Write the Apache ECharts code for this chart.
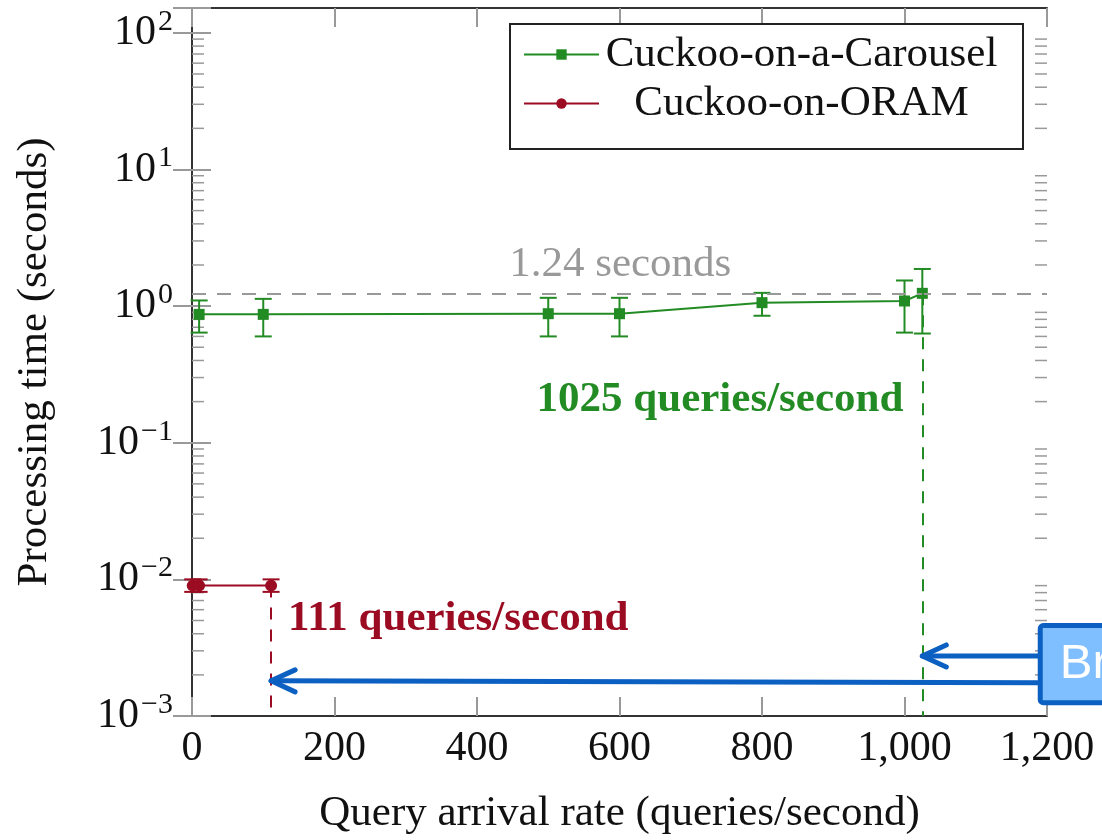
<!DOCTYPE html>
<html>
<head>
<meta charset="UTF-8">
<title>Processing time vs query arrival rate</title>
<script src="https://cdn.jsdelivr.net/npm/echarts@6/dist/echarts.min.js"></script>
<style>
  html, body { margin: 0; padding: 0; background: #fff; }
  #main { width: 1102px; height: 840px; }
</style>
</head>
<body>
<div id="main"></div>
<script>
// data
var carouselX  = [10, 100, 500, 600, 800, 1000, 1025];
var carouselY  = [0.87, 0.87, 0.88, 0.88, 1.06, 1.09, 1.24];
var carouselLo = [0.64, 0.60, 0.60, 0.60, 0.85, 0.64, 0.63];
var carouselHi = [1.10, 1.13, 1.15, 1.15, 1.25, 1.54, 1.87];

var oramX  = [1, 10, 111];
var oramY  = [0.009, 0.009, 0.009];
var oramLo = [0.0081, 0.0081, 0.0081];
var oramHi = [0.0100, 0.0100, 0.0100];

var refSeconds = 1.24;
var carouselMaxRate = 1025;
var oramMaxRate = 111;

// axes
var xMin = 0, xMax = 1200, xStep = 200;
var yMin = 0.001, yMax = 152;
var yDecades = [-3, -2, -1, 0, 1, 2];
var minorSteps = [2, 3, 4, 5, 6, 7, 8, 9];

// annotation anchors (data coords)
var carouselLabelAt = [1025, 0.207];
var oramLabelAt = [111, 0.00512];
var refLabelAt = [601, 2.0];
var arrows = [
  { from: [1187, 0.00275], to: [1025, 0.00275] },
  { from: [1187, 0.00175], to: [111, 0.00181] }
];
var box = { x: 1187, top: 0.00479, bottom: 0.0012, text: 'Br' };

var GREEN = '#238b23';
var RED = '#9b0b22';
var BLUE = '#0b60c2';
var SERIF = '"Liberation Serif", "Times New Roman", serif';

function pairs(xs, ys) {
  return xs.map(function (x, i) { return [x, ys[i]]; });
}

function errorBars(name, xs, lo, hi, color) {
  return {
    type: 'custom',
    name: name,
    z: 3,
    clip: false,
    silent: true,
    data: xs.map(function (x, i) { return [x, lo[i], hi[i]]; }),
    encode: { x: 0, y: [1, 2] },
    renderItem: function (params, api) {
      var top = api.coord([api.value(0), api.value(2)]);
      var bot = api.coord([api.value(0), api.value(1)]);
      var hw = 8.5;
      var st = { stroke: color, lineWidth: 2 };
      return {
        type: 'group',
        children: [
          { type: 'line', shape: { x1: top[0], y1: top[1], x2: bot[0], y2: bot[1] }, style: st },
          { type: 'line', shape: { x1: top[0] - hw, y1: top[1], x2: top[0] + hw, y2: top[1] }, style: st },
          { type: 'line', shape: { x1: bot[0] - hw, y1: bot[1], x2: bot[0] + hw, y2: bot[1] }, style: st }
        ]
      };
    }
  };
}

var minorVals = [];
yDecades.forEach(function (d) {
  minorSteps.forEach(function (m) {
    var v = m * Math.pow(10, d);
    if (v < yMax) minorVals.push([v]);
  });
});

function yLabel(v) {
  var lg = Math.log10(v);
  var e = Math.round(lg);
  if (Math.abs(lg - e) > 1e-6) return '';
  return '{b|10}{s|' + (e < 0 ? '\u2212' + (-e) : e) + '}';
}

var myChart = echarts.init(document.getElementById('main'));

var tickStyle = { color: '#999', width: 2 };
var frame = { show: true, lineStyle: { color: '#333', width: 2 } };

var option = {
  animation: false,
  backgroundColor: '#fff',
  grid: { left: 192, right: 55, top: 8, bottom: 123 },
  legend: {
    data: ['Cuckoo-on-a-Carousel', 'Cuckoo-on-ORAM'],
    orient: 'vertical',
    left: 510,
    top: 24,
    padding: [9, 24, 24, 13],
    itemGap: 6,
    itemWidth: 75,
    itemHeight: 13,
    backgroundColor: '#fff',
    borderColor: '#222',
    borderWidth: 2,
    borderRadius: 0,
    selectedMode: false,
    formatter: function (name) { return '{c|' + name + '}'; },
    textStyle: {
      fontFamily: SERIF,
      fontSize: 43,
      color: '#111',
      rich: { c: { width: 395, align: 'center', fontFamily: SERIF, fontSize: 43, lineHeight: 48, color: '#111' } }
    }
  },
  xAxis: [{
    type: 'value',
    min: xMin, max: xMax, interval: xStep,
    name: 'Query arrival rate (queries/second)',
    nameLocation: 'middle',
    nameGap: 76,
    nameTextStyle: { fontFamily: SERIF, fontSize: 43, color: '#111' },
    axisLine: frame,
    axisTick: { inside: true, length: 19, lineStyle: tickStyle },
    splitLine: { show: false },
    axisLabel: {
      margin: 12,
      fontFamily: SERIF, fontSize: 42, color: '#111',
      formatter: function (v) { return v.toLocaleString('en-US'); }
    }
  }, {
    type: 'value', position: 'top',
    min: xMin, max: xMax, interval: xStep,
    axisLine: frame,
    axisTick: { inside: true, length: 19, lineStyle: tickStyle },
    splitLine: { show: false },
    axisLabel: { show: false }
  }],
  yAxis: [{
    type: 'log', logBase: 10,
    min: yMin, max: yMax,
    name: 'Processing time (seconds)',
    nameLocation: 'middle',
    nameGap: 136,
    nameTextStyle: { fontFamily: SERIF, fontSize: 43, color: '#111' },
    axisLine: frame,
    axisTick: { inside: true, length: 19, lineStyle: tickStyle },
    splitLine: { show: false },
    axisLabel: {
      margin: 19,
      formatter: yLabel,
      rich: {
        b: { fontFamily: SERIF, fontSize: 42, color: '#111' },
        s: { fontFamily: SERIF, fontSize: 30, color: '#111', padding: [0, 0, 22, 2] }
      }
    }
  }, {
    type: 'log', logBase: 10, position: 'right',
    min: yMin, max: yMax,
    axisLine: frame,
    axisTick: { inside: true, length: 19, lineStyle: tickStyle },
    splitLine: { show: false },
    axisLabel: { show: false }
  }],
  series: [
    {
      type: 'custom',
      name: 'minorTicks',
      silent: true,
      z: 1,
      data: minorVals,
      encode: { y: 0 },
      renderItem: function (params, api) {
        var l = api.coord([xMin, api.value(0)]);
        var r = api.coord([xMax, api.value(0)]);
        var st = { stroke: '#999', lineWidth: 1.5 };
        return {
          type: 'group',
          children: [
            { type: 'line', shape: { x1: l[0], y1: l[1], x2: l[0] + 12, y2: l[1] }, style: st },
            { type: 'line', shape: { x1: r[0] - 12, y1: r[1], x2: r[0], y2: r[1] }, style: st }
          ]
        };
      }
    },
    errorBars('carouselErr', carouselX, carouselLo, carouselHi, GREEN),
    errorBars('oramErr', oramX, oramLo, oramHi, RED),
    {
      type: 'line',
      name: 'Cuckoo-on-a-Carousel',
      data: pairs(carouselX, carouselY),
      symbol: 'rect',
      symbolSize: 11,
      clip: false,
      z: 4,
      lineStyle: { color: GREEN, width: 2 },
      itemStyle: { color: GREEN },
      markLine: {
        silent: true,
        symbol: ['none', 'none'],
        label: { show: false },
        data: [
          { yAxis: refSeconds, lineStyle: { color: '#999', type: [14, 11], width: 2 } },
          [
            { coord: [carouselMaxRate, refSeconds], lineStyle: { color: GREEN, type: [12, 10], width: 2 } },
            { coord: [carouselMaxRate, yMin] }
          ]
        ]
      },
      markPoint: {
        silent: true,
        symbol: 'circle',
        symbolSize: 0,
        label: { show: true, formatter: '{b}', fontFamily: SERIF, fontSize: 43, fontWeight: 'bold', color: GREEN },
        data: [
          { name: carouselMaxRate + ' queries/second', coord: carouselLabelAt, label: { position: 'left', distance: 19 } },
          { name: refSeconds + ' seconds', coord: refLabelAt, label: { position: 'inside', fontWeight: 'normal', color: '#999' } }
        ]
      }
    },
    {
      type: 'line',
      name: 'Cuckoo-on-ORAM',
      data: pairs(oramX, oramY),
      symbol: 'circle',
      symbolSize: 12,
      clip: false,
      z: 4,
      lineStyle: { color: RED, width: 2 },
      itemStyle: { color: RED },
      markLine: {
        silent: true,
        symbol: ['none', 'none'],
        label: { show: false },
        data: [
          [
            { coord: [oramMaxRate, oramY[2]], lineStyle: { color: RED, type: [12, 10], width: 2 } },
            { coord: [oramMaxRate, yMin] }
          ]
        ]
      },
      markPoint: {
        silent: true,
        symbol: 'circle',
        symbolSize: 0,
        label: { show: true, formatter: '{b}', fontFamily: SERIF, fontSize: 43, fontWeight: 'bold', color: RED },
        data: [
          { name: oramMaxRate + ' queries/second', coord: oramLabelAt, label: { position: 'right', distance: 17 } }
        ]
      }
    },
    {
      type: 'custom',
      name: 'callout',
      silent: true,
      clip: false,
      z: 10,
      data: [[xMin, yMin]],
      renderItem: function (params, api) {
        var kids = [];
        var st = { stroke: BLUE, lineWidth: 5, lineCap: 'round', lineJoin: 'round', fill: null };
        arrows.forEach(function (a) {
          var p0 = api.coord(a.from), p1 = api.coord(a.to);
          var dx = p0[0] - p1[0], dy = p0[1] - p1[1];
          var len = Math.sqrt(dx * dx + dy * dy);
          var ux = dx / len, uy = dy / len;
          var back = 24, side = 11;
          kids.push({ type: 'line', shape: { x1: p0[0], y1: p0[1], x2: p1[0], y2: p1[1] }, style: st });
          kids.push({
            type: 'polyline',
            shape: { points: [
              [p1[0] + ux * back - uy * side, p1[1] + uy * back + ux * side],
              [p1[0], p1[1]],
              [p1[0] + ux * back + uy * side, p1[1] + uy * back - ux * side]
            ] },
            style: st
          });
        });
        var t = api.coord([box.x, box.top]);
        var b = api.coord([box.x, box.bottom]);
        kids.push({
          type: 'rect',
          shape: { x: t[0] + 2.5, y: t[1] + 2.5, width: 200, height: b[1] - t[1] - 5, r: 3 },
          style: { fill: '#80bfff', stroke: BLUE, lineWidth: 5 }
        });
        kids.push({
          type: 'text',
          x: t[0] + 22,
          y: (t[1] + b[1]) / 2,
          style: { text: box.text, fill: '#fff', font: '49px "Liberation Sans", Arial, sans-serif', verticalAlign: 'middle', align: 'left' }
        });
        return { type: 'group', children: kids };
      }
    }
  ]
};

myChart.setOption(option);
window.addEventListener('resize', function () { myChart.resize(); });
</script>
</body>
</html>
